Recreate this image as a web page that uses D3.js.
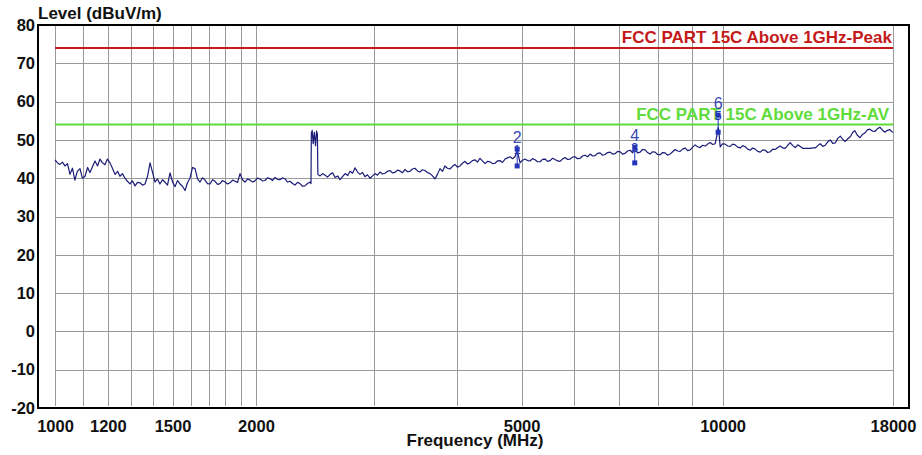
<!DOCTYPE html>
<html><head><meta charset="utf-8">
<script src="https://cdn.jsdelivr.net/npm/d3@7/dist/d3.min.js"></script>
<style>
html,body{margin:0;padding:0;background:#fff;}
svg{display:block;font-family:"Liberation Sans",Arial,sans-serif;}
</style></head><body>
<svg id="chart" width="922" height="455"></svg>
<script>
// ---------- data ----------
const traceFreqs = [
1000,1009,1017,1026,1035,1044,1053,1062,1071,1080,
1090,1099,1109,1119,1128,1138,1148,1158,1168,1178,
1188,1198,1209,1219,1230,1241,1251,1262,1273,1284,
1295,1306,1318,1329,1341,1352,1364,1376,1388,1400,
1412,1424,1436,1449,1461,1474,1487,1500,1513,1526,
1539,1552,1566,1579,1593,1607,1621,1635,1649,1663,
1678,1692,1707,1722,1737,1752,1767,1782,1798,1813,
1829,1845,1861,1877,1893,1909,1926,1943,1960,1977,
1993,2010,2028,2045,2063,2081,2099,2117,2136,2154,
2173,2192,2211,2230,2249,2269,2288,2308,2328,2348,
2368,2389,2410,2418,2421,2428,2436,2446,2456,2465,
2472,2476,2495,2517,2538,2560,2583,2605,2628,2651,
2673,2696,2720,2744,2767,2791,2815,2839,2863,2888,
2913,2938,2964,2990,3015,3041,3068,3095,3121,3148,
3175,3202,3230,3258,3286,3314,3344,3373,3402,3431,
3461,3491,3521,3551,3582,3613,3645,3677,3708,3740,
3773,3806,3838,3871,3905,3939,3973,4007,4042,4077,
4113,4149,4184,4220,4257,4294,4331,4368,4406,4444,
4483,4522,4561,4600,4640,4680,4722,4763,4804,4846,
4887,4924,4973,5016,5059,5103,5147,5192,5237,5282,
5328,5374,5421,5468,5515,5563,5611,5660,5709,5758,
5808,5858,5909,5960,6012,6064,6117,6170,6223,6277,
6332,6387,6442,6498,6554,6611,6668,6726,6784,6843,
6902,6962,7022,7083,7144,7206,7269,7332,7386,7459,
7524,7589,7655,7721,7788,7855,7924,7993,8062,8132,
8202,8273,8345,8417,8490,8564,8638,8713,8788,8864,
8941,9018,9096,9175,9255,9335,9417,9499,9581,9664,
9748,9830,9848,9870,9917,10003,10090,10177,10265,10354,
10444,10534,10626,10718,10811,10905,10999,11094,11191,11288,
11386,11485,11584,11684,11786,11888,11991,12095,12200,12306,
12412,12519,12628,12737,12848,12959,13072,13185,13299,13414,
13530,13647,13766,13885,14006,14127,14250,14373,14498,14624,
14750,14878,15007,15137,15268,15400,15534,15669,15781,15918,
16056,16195,16335,16476,16619,16763,16908,17054,17203,17352,
17502,17654,17807,17900,18000];
const traceLevels = [
44.8,44.0,43.6,44.2,43.2,43.8,41.0,42.6,39.5,41.8,
42.5,40.0,40.5,42.8,41.5,43.0,44.5,43.2,45.0,44.0,
43.5,45.0,44.0,42.6,41.0,41.8,40.5,41.2,40.0,39.2,
38.5,39.3,38.0,38.9,38.8,38.2,38.5,40.5,44.0,41.5,
39.0,39.8,38.5,39.6,39.0,38.2,41.4,39.0,37.8,39.4,
38.5,37.9,36.8,38.8,40.0,42.8,42.5,39.8,39.0,40.1,
39.5,38.6,38.5,39.6,39.2,38.4,38.6,39.4,39.0,38.5,
38.8,39.5,39.2,38.9,41.2,39.6,39.0,39.8,39.5,39.0,
39.3,40.0,39.8,39.3,39.4,40.1,39.9,39.4,40.2,39.7,
39.6,40.1,39.8,39.0,39.2,38.6,38.2,38.9,38.6,37.9,
38.0,38.6,39.0,38.6,51.8,52.5,49.0,52.0,48.5,52.3,
51.5,41.0,40.6,41.2,40.8,40.3,41.0,41.4,40.2,40.6,
39.6,40.4,41.2,40.7,41.8,41.3,42.7,41.6,41.0,41.5,
40.4,40.9,40.0,40.6,41.2,40.8,41.6,41.1,41.3,41.8,
42.0,41.4,41.5,42.1,41.9,41.4,42.3,41.7,41.8,42.4,
42.6,41.9,41.6,42.2,42.0,41.5,41.2,40.6,39.8,41.0,
42.5,41.8,43.2,42.6,42.4,43.1,43.6,42.9,43.2,43.9,
44.4,43.7,44.0,44.6,44.8,44.2,45.2,44.5,43.8,44.4,
44.3,43.8,43.9,44.5,44.6,44.1,45.0,45.3,45.6,45.1,
45.6,47.4,44.0,44.7,45.0,44.6,44.5,45.1,44.8,44.3,
44.3,44.9,45.0,44.4,44.6,45.2,44.9,44.5,44.4,45.0,
45.4,44.9,45.0,45.5,45.6,45.1,45.2,45.8,46.0,45.6,
46.3,45.8,45.9,46.5,46.6,46.0,46.2,46.7,46.8,46.3,
46.4,47.0,46.9,46.3,46.5,47.1,47.3,46.6,47.8,46.6,
46.8,47.5,47.4,46.7,46.3,46.9,46.8,46.2,46.1,46.7,
46.6,46.0,46.3,46.9,47.5,47.1,47.0,47.6,47.9,47.2,
47.4,48.1,48.7,48.2,48.0,48.6,48.4,48.9,49.3,48.8,
49.0,52.0,53.2,52.5,48.2,49.0,48.9,48.4,48.3,48.9,
48.7,48.1,47.9,48.5,48.2,47.6,47.3,47.9,47.6,47.0,
46.8,47.4,47.3,46.7,46.9,47.6,47.5,48.0,48.4,47.9,
47.8,48.6,49.3,48.5,48.0,48.7,48.3,47.8,47.8,47.8,
47.8,47.9,47.9,48.5,49.0,48.3,48.6,49.5,50.0,49.1,
49.2,50.4,51.0,50.1,49.6,50.3,50.8,52.0,52.4,51.2,
50.6,51.4,51.8,52.6,52.8,52.3,52.2,52.9,53.3,52.6,
52.0,52.5,52.7,52.2,52.0];

const limitNames  = ["FCC PART 15C Above 1GHz-Peak", "FCC PART 15C Above 1GHz-AV"];
const limitLevels = [74, 54];
const limitColors = ["#c41a1a", "#5fdc3c"];

const markerIds    = ["1","2","3","4","5","6"];
const markerFreqs  = [4924, 4924, 7386, 7386, 9848, 9848];
const markerLevels = [47.6, 43.2, 48.1, 44.0, 56.5, 52.0];

const gridFreqs   = [1000,1100,1200,1300,1400,1500,1600,1700,1800,1900,2000,3000,4000,5000,6000,7000,8000,9000,10000,18000];
const xTickLabels = [1000,1200,1500,2000,5000,10000,18000];
const yTicks      = [80,70,60,50,40,30,20,10,0,-10,-20];

// ---------- layout ----------
const svg = d3.select("#chart");
const frame = {l:38, r:909, t:25, b:408};
const x = d3.scaleLog().domain([1000,18000]).range([55,893]);
const y = d3.scaleLinear().domain([-20,80]).range([frame.b, frame.t]);

// grid
const grid = svg.append("g").attr("stroke","#9a9a9a").attr("stroke-width",1).attr("shape-rendering","crispEdges");
grid.selectAll("line.v").data(gridFreqs).join("line")
  .attr("x1",d=>Math.round(x(d))+0.5).attr("x2",d=>Math.round(x(d))+0.5)
  .attr("y1",frame.t).attr("y2",frame.b-2);
grid.selectAll("line.h").data(yTicks.filter(d=>d>-20&&d<80)).join("line")
  .attr("x1",x(1000)).attr("x2",x(18000))
  .attr("y1",d=>Math.round(y(d))+0.5).attr("y2",d=>Math.round(y(d))+0.5);

// limit lines
limitLevels.forEach((lv,i)=>{
  svg.append("line").attr("x1",x(1000)).attr("x2",x(18000))
    .attr("y1",y(lv)).attr("y2",y(lv))
    .attr("stroke",limitColors[i]).attr("stroke-width",2);
  svg.append("text").attr("x",x(18000)-1-(i*3)).attr("y",y(lv)-5)
    .attr("text-anchor","end").attr("font-size",17).attr("font-weight","bold")
    .attr("fill",limitColors[i]).text(limitNames[i]);
});

// trace
const tr = traceFreqs.map((f,i)=>[f,traceLevels[i]]);
svg.append("path").datum(tr)
  .attr("fill","none").attr("stroke","#1b1b78").attr("stroke-width",1.2)
  .attr("stroke-linejoin","round")
  .attr("d",d3.line().x(d=>x(d[0])).y(d=>y(d[1])));

// markers
const mk = svg.append("g").attr("fill","#2435b8");
markerFreqs.forEach((f,i)=>{
  mk.append("rect").attr("x",x(f)-2.5).attr("y",y(markerLevels[i])-2.5).attr("width",5).attr("height",5);
});
for (let p=0;p<markerIds.length;p+=2){
  const f = markerFreqs[p];
  const top = Math.max(markerLevels[p],markerLevels[p+1]);
  mk.append("line").attr("x1",x(f)).attr("x2",x(f)).attr("y1",y(markerLevels[p])).attr("y2",y(markerLevels[p+1]))
    .attr("stroke","#2435b8").attr("stroke-width",1);
  mk.append("text").attr("x",x(f)).attr("y",y(top)+5).attr("text-anchor","middle")
    .attr("font-size",13).attr("fill","#2435b8").text(markerIds[p]);
  mk.append("text").attr("x",x(f)).attr("y",y(top)-6).attr("text-anchor","middle")
    .attr("font-size",16).attr("fill","#3a4ab0").text(markerIds[p+1]);
}

// frame
svg.append("rect").attr("x",frame.l).attr("y",frame.t).attr("width",frame.r-frame.l).attr("height",frame.b-frame.t)
  .attr("fill","none").attr("stroke","#000").attr("stroke-width",2);

// axes
const xAxis = svg.append("g").attr("transform",`translate(0,${frame.b})`)
  .call(d3.axisBottom(x).tickValues(xTickLabels).tickSize(0).tickPadding(12).tickFormat(d=>String(d)));
xAxis.select(".domain").remove();
xAxis.selectAll("text").attr("font-size",16.5).attr("font-weight","bold").attr("fill","#111")
  .attr("font-family","'Liberation Sans',Arial,sans-serif");

const yAxis = svg.append("g").attr("transform",`translate(${frame.l},0)`)
  .call(d3.axisLeft(y).tickValues(yTicks).tickSize(0).tickPadding(3).tickFormat(d=>String(d)));
yAxis.select(".domain").remove();
yAxis.selectAll("text").attr("font-size",16.5).attr("font-weight","bold").attr("fill","#111")
  .attr("font-family","'Liberation Sans',Arial,sans-serif");

// titles
svg.append("text").attr("x",38).attr("y",19).attr("font-size",17).attr("font-weight","bold")
  .attr("fill","#111").text("Level (dBuV/m)");
svg.append("text").attr("x",475).attr("y",446).attr("text-anchor","middle").attr("font-size",17).attr("font-weight","bold")
  .attr("fill","#111").text("Frequency (MHz)");
</script>
</body></html>
